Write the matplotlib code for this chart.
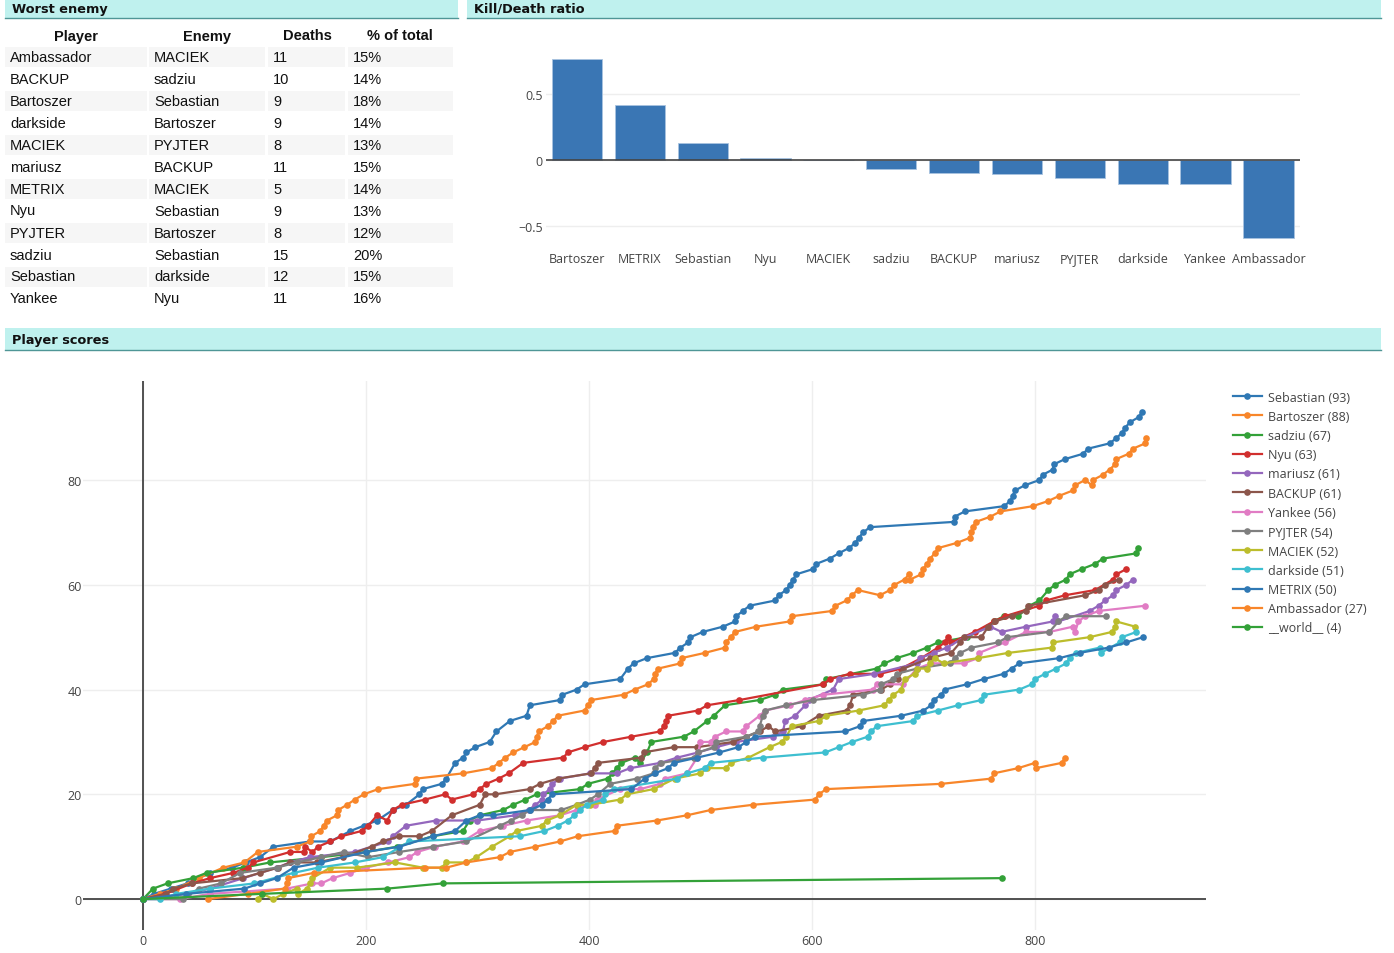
import matplotlib
matplotlib.use('Agg')
import matplotlib.pyplot as plt
from matplotlib.patches import Rectangle

W, H = 1394, 954

# worst enemy table
table_players = ['Ambassador', 'BACKUP', 'Bartoszer', 'darkside', 'MACIEK', 'mariusz',
                 'METRIX', 'Nyu', 'PYJTER', 'sadziu', 'Sebastian', 'Yankee']
table_enemies = ['MACIEK', 'sadziu', 'Sebastian', 'Bartoszer', 'PYJTER', 'BACKUP',
                 'MACIEK', 'Sebastian', 'Bartoszer', 'Sebastian', 'darkside', 'Nyu']
table_deaths = [11, 10, 9, 9, 8, 11, 5, 9, 8, 15, 12, 11]
table_pct = [15, 14, 18, 14, 13, 15, 14, 13, 12, 20, 15, 16]

# kill/death ratio
kd_players = ['Bartoszer', 'METRIX', 'Sebastian', 'Nyu', 'MACIEK', 'sadziu', 'BACKUP',
              'mariusz', 'PYJTER', 'darkside', 'Yankee', 'Ambassador']
kd_ratio = [0.77, 0.417, 0.132, 0.013, 0.0, -0.066, -0.099, -0.109, -0.14, -0.183, -0.185, -0.597]

# player scores: (time, score)
sebastian = [(0, 0), (10, 1), (25, 2), (40, 3), (60, 5), (80, 6), (92, 7), (105, 8), (117, 10), (150, 11),
             (168, 11), (186, 13), (198, 14), (210, 15), (224, 17), (236, 18), (248, 20), (251, 21), (268, 22),
             (272, 23), (280, 26), (287, 27), (290, 28), (298, 29), (311, 30), (317, 32), (329, 34), (344, 35),
             (347, 37), (374, 38), (376, 39), (389, 40), (396, 41), (428, 42), (435, 44), (440, 45), (452, 46),
             (477, 47), (482, 48), (489, 49), (491, 50), (502, 51), (520, 52), (531, 53), (532, 54), (538, 55),
             (544, 56), (567, 57), (570, 58), (577, 59), (580, 60), (583, 61), (586, 62), (601, 63), (604, 64),
             (616, 65), (624, 66), (633, 67), (639, 68), (642, 69), (646, 70), (652, 71), (727, 72), (728, 73),
             (737, 74), (772, 75), (778, 76), (780, 77), (782, 78), (791, 79), (804, 80), (807, 81), (816, 82),
             (817, 83), (827, 84), (843, 85), (848, 86), (867, 87), (873, 88), (878, 89), (881, 90), (885, 91),
             (893, 92), (896, 93)]
bartoszer = [(0, 0), (15, 1), (30, 2), (50, 4), (72, 6), (91, 7), (103, 9), (138, 10), (150, 11), (151, 12),
             (159, 13), (162, 14), (165, 15), (174, 16), (175, 17), (183, 18), (190, 19), (198, 20), (211, 21),
             (244, 22), (245, 23), (287, 24), (313, 25), (319, 26), (325, 27), (332, 28), (342, 29), (352, 30),
             (353, 31), (355, 32), (363, 33), (368, 34), (372, 35), (396, 36), (399, 37), (402, 38), (431, 39),
             (441, 40), (453, 41), (458, 42), (459, 43), (462, 44), (482, 45), (483, 46), (504, 47), (522, 48),
             (523, 49), (527, 50), (531, 51), (550, 52), (580, 53), (582, 54), (618, 55), (621, 56), (631, 57),
             (636, 58), (641, 59), (661, 58), (670, 59), (674, 60), (683, 61), (687, 62), (688, 61), (698, 62),
             (700, 63), (703, 64), (706, 65), (710, 66), (713, 67), (730, 68), (742, 69), (743, 70), (744, 71),
             (747, 72), (760, 73), (769, 74), (798, 75), (812, 76), (822, 77), (834, 78), (836, 79), (845, 80),
             (851, 79), (852, 80), (861, 81), (867, 82), (872, 83), (873, 84), (884, 85), (888, 86), (899, 87),
             (900, 88)]
sadziu = [(0, 0), (9, 2), (22, 3), (45, 4), (57, 5), (90, 6), (114, 7), (160, 8), (200, 9), (228, 10),
          (260, 12), (287, 13), (293, 15), (302, 16), (323, 17), (332, 18), (343, 19), (353, 20), (392, 21),
          (399, 22), (417, 23), (421, 24), (425, 25), (429, 26), (441, 27), (446, 26), (452, 28), (456, 30),
          (485, 31), (494, 32), (506, 34), (512, 35), (522, 37), (553, 38), (567, 39), (574, 40), (610, 41),
          (613, 42), (658, 44), (665, 45), (676, 46), (691, 47), (703, 48), (713, 49), (739, 50), (758, 52),
          (763, 53), (772, 54), (785, 54), (795, 56), (804, 57), (812, 59), (818, 60), (828, 61), (831, 62),
          (842, 63), (854, 64), (861, 65), (891, 66), (892, 67)]
nyu = [(0, 0), (20, 1), (44, 3), (60, 4), (81, 5), (94, 6), (99, 7), (132, 9), (144, 9), (145, 10), (152, 9),
       (157, 10), (168, 11), (178, 12), (196, 13), (202, 14), (210, 16), (219, 15), (224, 17), (232, 18),
       (253, 19), (271, 20), (277, 19), (296, 20), (302, 21), (308, 22), (319, 23), (328, 24), (341, 26),
       (377, 27), (381, 28), (396, 29), (413, 30), (438, 31), (464, 32), (467, 33), (469, 34), (471, 35),
       (498, 36), (506, 37), (535, 38), (610, 41), (616, 42), (634, 43), (661, 43), (680, 44), (698, 46),
       (713, 48), (719, 49), (722, 50), (725, 49), (746, 51), (763, 53), (773, 54), (804, 56), (810, 57),
       (827, 58), (854, 59), (870, 61), (873, 62), (882, 63)]
mariusz = [(0, 0), (40, 1), (60, 2), (90, 4), (120, 6), (132, 7), (150, 8), (190, 9), (220, 11), (224, 12),
           (236, 14), (263, 15), (300, 15), (334, 16), (346, 17), (352, 18), (358, 19), (359, 20), (365, 21),
           (367, 22), (374, 23), (401, 24), (425, 24), (437, 25), (464, 26), (479, 27), (498, 28), (514, 29),
           (532, 30), (565, 31), (574, 32), (576, 34), (585, 35), (594, 37), (597, 38), (619, 40), (624, 42),
           (656, 43), (694, 45), (697, 46), (709, 47), (721, 48), (737, 50), (760, 52), (770, 51), (792, 52),
           (816, 53), (818, 54), (821, 53), (849, 55), (857, 56), (863, 57), (870, 58), (873, 59), (882, 60),
           (888, 61)]
backup = [(0, 0), (21, 1), (27, 2), (44, 3), (89, 4), (105, 5), (121, 6), (132, 7), (156, 7), (179, 8),
          (205, 10), (215, 11), (230, 12), (248, 12), (259, 13), (277, 16), (302, 18), (307, 20), (316, 20),
          (347, 21), (356, 22), (372, 23), (402, 24), (405, 25), (408, 26), (447, 27), (449, 28), (476, 29),
          (497, 29), (529, 30), (541, 31), (553, 32), (561, 33), (567, 32), (591, 33), (606, 35), (631, 36),
          (634, 37), (637, 39), (662, 40), (670, 41), (677, 42), (682, 44), (706, 46), (725, 47), (733, 49),
          (736, 50), (752, 50), (758, 52), (764, 53), (779, 54), (792, 55), (794, 56), (845, 58), (857, 59),
          (863, 60), (875, 61)]
yankee = [(0, 0), (33, 0), (60, 1), (129, 2), (152, 3), (160, 3), (170, 4), (186, 5), (200, 6), (220, 7),
          (239, 8), (246, 9), (262, 10), (287, 11), (302, 13), (323, 14), (344, 15), (374, 16), (389, 17),
          (392, 18), (405, 18), (407, 19), (428, 21), (446, 21), (464, 22), (468, 23), (488, 24), (497, 27),
          (498, 28), (500, 30), (509, 30), (513, 31), (523, 32), (538, 32), (541, 33), (553, 35), (558, 36),
          (580, 37), (594, 38), (610, 39), (655, 40), (658, 41), (682, 41), (694, 44), (707, 45), (736, 45),
          (749, 46), (750, 47), (773, 49), (792, 51), (813, 51), (834, 52), (836, 51), (839, 53), (845, 54),
          (857, 55), (899, 56)]
pyjter = [(0, 0), (36, 0), (50, 2), (70, 3), (87, 5), (120, 6), (138, 7), (160, 8), (180, 9), (202, 8),
          (230, 9), (260, 10), (290, 11), (320, 14), (330, 15), (340, 16), (347, 17), (375, 17), (389, 18),
          (401, 19), (408, 20), (419, 22), (443, 23), (458, 24), (459, 25), (465, 26), (494, 27), (498, 28),
          (512, 29), (514, 30), (541, 31), (552, 32), (553, 33), (556, 35), (558, 36), (577, 37), (601, 38),
          (646, 39), (661, 40), (662, 41), (673, 42), (676, 43), (694, 44), (724, 45), (728, 46), (733, 47),
          (743, 48), (767, 49), (775, 50), (813, 51), (821, 53), (828, 54), (864, 54)]
maciek = [(103, 0), (107, 1), (117, 0), (126, 1), (138, 2), (139, 1), (147, 2), (150, 3), (152, 4), (168, 6),
          (192, 6), (226, 7), (251, 6), (268, 6), (272, 7), (290, 7), (299, 8), (313, 10), (329, 12), (335, 13),
          (358, 14), (362, 15), (374, 16), (389, 18), (401, 18), (428, 19), (434, 20), (458, 21), (477, 23),
          (500, 24), (506, 25), (523, 25), (527, 26), (543, 27), (562, 29), (573, 30), (577, 31), (582, 33),
          (606, 34), (613, 35), (642, 36), (665, 37), (669, 38), (673, 39), (680, 40), (683, 42), (692, 43),
          (694, 44), (703, 44), (706, 45), (710, 46), (718, 45), (749, 46), (776, 47), (815, 48), (816, 49),
          (849, 50), (869, 51), (872, 52), (873, 53), (890, 52)]
darkside = [(0, 0), (15, 0), (30, 1), (60, 2), (100, 3), (135, 5), (157, 6), (190, 7), (215, 8), (239, 11),
            (338, 12), (360, 13), (372, 14), (381, 15), (387, 16), (392, 17), (398, 18), (413, 19), (414, 20),
            (422, 21), (479, 23), (488, 24), (504, 25), (509, 26), (556, 27), (612, 28), (624, 29), (636, 30),
            (650, 31), (653, 32), (658, 33), (691, 34), (694, 35), (713, 36), (731, 37), (752, 38), (754, 39),
            (786, 40), (797, 41), (800, 42), (809, 43), (819, 44), (828, 45), (831, 46), (837, 47), (858, 48),
            (859, 47), (876, 49), (878, 50), (891, 51)]
metrix = [(0, 0), (39, 1), (91, 2), (105, 3), (120, 4), (135, 6), (160, 7), (200, 9), (230, 10), (260, 12),
          (280, 13), (290, 15), (302, 16), (314, 16), (347, 17), (358, 18), (363, 19), (367, 20), (438, 21),
          (450, 23), (459, 24), (471, 25), (476, 26), (497, 27), (517, 28), (534, 29), (541, 30), (549, 31),
          (630, 32), (643, 33), (646, 34), (680, 35), (700, 36), (707, 37), (709, 38), (716, 39), (719, 40),
          (739, 41), (754, 42), (772, 43), (779, 44), (786, 45), (822, 46), (840, 47), (866, 48), (882, 49),
          (897, 50)]
ambassador = [(58, 0), (94, 1), (127, 2), (129, 3), (130, 4), (153, 5), (253, 6), (272, 6), (290, 7),
              (320, 8), (329, 9), (352, 10), (374, 11), (390, 12), (423, 13), (425, 14), (461, 15), (488, 16),
              (509, 17), (547, 18), (603, 19), (606, 20), (613, 21), (716, 22), (761, 23), (763, 24), (785, 25),
              (800, 26), (801, 25), (824, 26), (827, 27)]
world = [(0, 0), (107, 1), (219, 2), (269, 3), (770, 4)]

score_names = ['Sebastian', 'Bartoszer', 'sadziu', 'Nyu', 'mariusz', 'BACKUP', 'Yankee',
               'PYJTER', 'MACIEK', 'darkside', 'METRIX', 'Ambassador', '__world__']
score_data = [sebastian, bartoszer, sadziu, nyu, mariusz, backup, yankee,
              pyjter, maciek, darkside, metrix, ambassador, world]
score_colors = ['#2f78b4', '#f8862a', '#33a138', '#d12f2e', '#9467bd', '#8c564b', '#e17cc4',
                '#7f7f7f', '#bcbd2c', '#3ebfd0', '#2f78b4', '#f8862a', '#33a138']


def fig_rect(x0, y0, x1, y1):
    # pixel box (top-left origin) -> figure fraction
    return [x0 / W, 1 - y1 / H, (x1 - x0) / W, (y1 - y0) / H]


fig = plt.figure(figsize=(W / 100, H / 100), dpi=100)
page = fig.add_axes([0, 0, 1, 1])
page.set_xlim(0, W)
page.set_ylim(H, 0)
page.axis('off')


def header(x0, y0, x1, y1, title):
    page.add_patch(Rectangle((x0, y0), x1 - x0, y1 - y0, facecolor='#bff1ee', edgecolor='none'))
    page.plot([x0, x1], [y1, y1], color='#4f9696', lw=1)
    page.text(x0 + 7, (y0 + y1) / 2 + 0.5, title, fontsize=9.3, fontweight='bold',
              family='DejaVu Sans', va='center', ha='left', color='#111')


header(5, -2, 458, 19, 'Worst enemy')
header(467, -2, 1381, 19, 'Kill/Death ratio')
header(5, 329, 1381, 351, 'Player scores')

# table
cols = [(5, 147), (149, 265), (268, 345), (348, 453)]
col_titles = ['Player', 'Enemy', 'Deaths', '% of total']
col_title_x = [76, 207, 307, 400]
for t, cx in zip(col_titles, col_title_x):
    page.text(cx, 36.5, t, fontsize=10.5, fontweight='bold', family='Liberation Sans',
              ha='center', va='center', color='#111')
for i in range(len(table_players)):
    yc = 57.5 + 22 * i
    if i % 2 == 0:
        for c0, c1 in cols:
            page.add_patch(Rectangle((c0, yc - 10), c1 - c0, 20, facecolor='#f6f6f6', edgecolor='none'))
    cells = [table_players[i], table_enemies[i], str(table_deaths[i]), f'{table_pct[i]}%']
    for (c0, c1), s in zip(cols, cells):
        page.text(c0 + 5, yc, s, fontsize=10.5, family='Liberation Sans',
                  ha='left', va='center', color='#111')

tick_font = dict(family='Open Sans', size=9)

# kill/death bars
ax_kd = fig.add_axes(fig_rect(545.6, 55, 1299.9, 245))
ax_kd.bar(range(len(kd_players)), kd_ratio, width=0.8, color='#3a76b4',
          edgecolor='#a9c3e0', linewidth=0.6, zorder=2)
ax_kd.axhline(0, color='#444444', lw=1.2, zorder=3)
ax_kd.set_xlim(-0.5, len(kd_players) - 0.5)
ax_kd.set_ylim(-0.64, 0.807)
ax_kd.set_yticks([-0.5, 0, 0.5])
ax_kd.set_yticklabels(['\u22120.5', '0', '0.5'], fontdict=tick_font, color='#444444')
ax_kd.set_xticks(range(len(kd_players)))
ax_kd.set_xticklabels(kd_players, fontdict=tick_font, color='#444444')
ax_kd.tick_params(length=0, axis='x', pad=5.5)
ax_kd.tick_params(length=0, axis='y', pad=2)
ax_kd.grid(axis='y', color='#eeeeee', lw=1)
ax_kd.set_axisbelow(True)
for s in ax_kd.spines.values():
    s.set_visible(False)

# player score lines
ax = fig.add_axes(fig_rect(83, 382, 1206, 931))
handles = []
labels = []
for name, pts, col in zip(score_names, score_data, score_colors):
    xs = [p[0] for p in pts]
    ys = [p[1] for p in pts]
    ln, = ax.plot(xs, ys, color=col, lw=1.6, marker='o', markersize=4.8,
                  markeredgewidth=0, zorder=3)
    handles.append(ln)
    labels.append(f'{name} ({ys[-1]})')
ax.axhline(0, color='#444444', lw=1.3, zorder=2)
ax.axvline(0, color='#444444', lw=1.3, zorder=2)
ax.set_xlim(-53.8, 953.4)
ax.set_ylim(-5.9, 98.9)
ax.set_xticks([0, 200, 400, 600, 800])
ax.set_yticks([0, 20, 40, 60, 80])
ax.set_xticklabels(['0', '200', '400', '600', '800'], fontdict=tick_font, color='#444444')
ax.set_yticklabels(['0', '20', '40', '60', '80'], fontdict=tick_font, color='#444444')
ax.tick_params(axis='x', length=0, pad=3)
ax.tick_params(axis='y', length=0, pad=1)
ax.grid(color='#eeeeee', lw=1)
ax.set_axisbelow(True)
for s in ax.spines.values():
    s.set_visible(False)

fig.legend(handles, labels, loc='upper left', bbox_to_anchor=(1233 / W, 1 - 391.5 / H),
           frameon=False, borderpad=0, borderaxespad=0, handlelength=2.3,
           handletextpad=0.5, labelspacing=0.5, prop=dict(family='Open Sans', size=9),
           labelcolor='#444444')

fig.savefig('out.png', dpi=100)
